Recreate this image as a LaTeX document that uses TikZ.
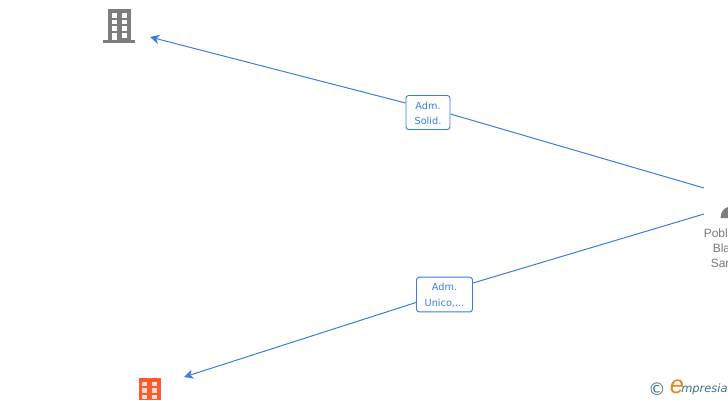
\documentclass[tikz,border=0pt]{standalone}
\usepackage{xcolor}
\usepackage{fontspec}
\setmainfont{Liberation Sans}
\newfontfamily\labelfont{DejaVu Sans}
\usepackage{tikz}
\usetikzlibrary{
	arrows.meta,
	calc,
	positioning
}
\definecolor{LinkBlue}{RGB}{58,124,224}
\definecolor{IconGray}{RGB}{125,125,125}
\definecolor{TextGray}{RGB}{120,120,120}
\definecolor{IconOrange}{RGB}{255,90,44}
\definecolor{LogoTeal}{RGB}{60,115,135}
\definecolor{LogoOrange}{RGB}{240,130,30}
\tikzset{
	rolebox/.style={draw=LinkBlue, fill=white, rounded corners=2pt, line width=0.7pt, text=LinkBlue, font=\labelfont\fontsize{7.3}{11.6}\selectfont, align=center, inner sep=0pt},
	link/.style={LinkBlue, line width=0.75pt},
	linkend/.style={link, -{Stealth[length=7pt, width=7pt, inset=2.2pt]}},
	namelabel/.style={anchor=west, text=TextGray, font=\fontsize{9}{9}\selectfont, inner sep=0pt}
}

\begin{document}
\begin{tikzpicture}[x=0.75pt, y=-0.75pt]
		\useasboundingbox (0,0) rectangle (728,400);
		\clip (0,0) rectangle (728,400);
		
		% edificio gris
		\fill[IconGray] (108,9) rectangle (131,41);
		\fill[IconGray] (103,40) rectangle (135,43);
		\foreach \y in {13,19.5,26} {
			\fill[white] (112,\y) rectangle +(5,4.5);
			\fill[white] (122,\y) rectangle +(5,4.5);
		}
		\fill[white] (112,33) rectangle (117,40);
		\fill[white] (122,33) rectangle (127,37.5);
		
		% edificio naranja
		\fill[IconOrange] (139,378) rectangle (161,400);
		\foreach \y in {381.5,388,394.5} {
			\fill[white!80!IconOrange] (142,\y) rectangle +(5,4.5);
			\fill[white!80!IconOrange] (152,\y) rectangle +(5,4.5);
		}
		
		% persona
		\fill[IconGray] (720.5,218) .. controls (720.5,212) and (724,208) .. (728,207) -- (728,218) -- cycle;
		\node[namelabel] (nameA) at (703.5,233) {Pobl};
		\node[namelabel] (nameB) at (712.5,248) {Bla};
		\node[namelabel] (nameC) at (710.5,263) {Sar};
		
		% extremos
		\coordinate (upperStart) at (704,188);
		\coordinate (upperEnd) at (150,37);
		\coordinate (lowerStart) at (704,214);
		\coordinate (lowerEnd) at (184,377);
		
		% cargos
		\node[rolebox, minimum width=33pt, minimum height=25.5pt] (upperRole) at (428,112.5) {\rule{0pt}{7pt}Adm.\\Solid.};
		\node[rolebox, minimum width=42pt, minimum height=26pt] (lowerRole) at (444.5,294.5) {\rule{0pt}{7pt}Adm.\\Unico,...};
		
		% enlaces
		\draw[link] (upperStart) -- ($(upperRole.east)+(0,1.5)$);
		\draw[linkend] ($(upperRole.west)+(0,-9.5)$) -- (upperEnd);
		\draw[link] (lowerStart) -- ($(lowerRole.east)+(0,-11.5)$);
		\draw[linkend] ($(lowerRole.west)+(0,8)$) -- (lowerEnd);
		
		% logo
		\node[text=LogoTeal, font=\labelfont\fontsize{13}{13}\selectfont, inner sep=0pt] (logoC) at (657,389) {©};
		\node[text=LogoOrange, font=\itshape\fontsize{19}{19}\selectfont, inner sep=0pt] (logoE) at (677,387) {e};
		\node[text=LogoTeal, anchor=west, font=\labelfont\itshape\fontsize{8.6}{9}\selectfont, inner sep=0pt] (logoText) at (681,389) {mpresia};
	\end{tikzpicture}
\end{document}
